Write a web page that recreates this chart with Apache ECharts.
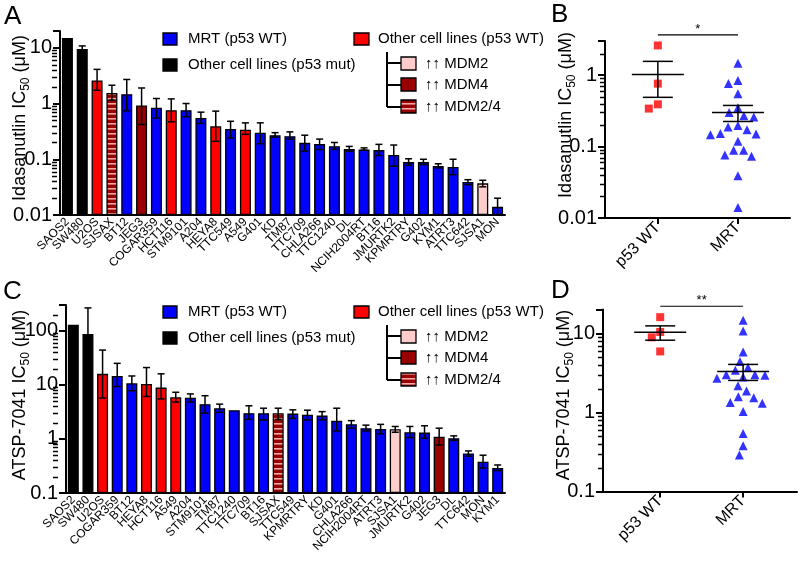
<!DOCTYPE html>
<html><head><meta charset="utf-8">
<script src="https://cdn.jsdelivr.net/npm/echarts@6/dist/echarts.min.js"></script>
<style>html,body{margin:0;padding:0;background:#fff}#c{width:800px;height:568px}</style>
</head><body><div id="c"></div>
<script>
// ---------- DATA ----------
const idaCells = ['SAOS2','SW480','U2OS','SJSAX','BT12','JEG3','COGAR359','HCT116','STM9101','A204','HEYA8','TTC549','A549','G401','KD','TM87','TTC709','CHLA266','TTC1240','DL','NCIH2004RT','BT16','JMURTK2','KPMRTRY','G402','KYM1','ATRT3','TTC642','SJSA1','MON'];
const idaIC50 = [15,9.5,2.6,1.55,1.47,0.92,0.84,0.76,0.76,0.55,0.39,0.35,0.34,0.30,0.27,0.26,0.197,0.187,0.172,0.152,0.15,0.146,0.119,0.089,0.089,0.076,0.073,0.039,0.037,0.014];
const idaErrLow = [null,9.0,1.73,1.15,0.74,0.42,0.55,0.47,0.58,0.44,0.21,0.24,0.28,0.19,0.25,0.23,0.14,0.15,0.15,0.14,0.145,0.117,0.075,0.078,0.08,0.07,0.053,0.035,0.032,0.01];
const idaErrHigh = [null,10.8,4.1,2.13,2.7,1.9,1.23,1.21,1.0,0.7,0.73,0.48,0.45,0.45,0.30,0.31,0.27,0.23,0.20,0.17,0.16,0.185,0.18,0.102,0.10,0.083,0.10,0.043,0.042,0.02];

const atspCells = ['SAOS2','SW480','U2OS','COGAR359','BT12','HEYA8','HCT116','A549','A204','STM9101','TM87','TTC1240','TTC709','BT16','SJSAX','TTC549','KPMRTRY','KD','G401','CHLA266','NCIH2004RT','ATRT3','SJSA1','JMURTK2','G402','JEG3','DL','TTC642','MON','KYM1'];
const atspIC50 = [129,87,16,14.6,10.7,10.4,8.9,5.9,5.8,4.4,3.7,3.4,3.0,3.0,3.0,2.94,2.8,2.7,2.18,1.87,1.58,1.53,1.51,1.33,1.31,1.1,1.03,0.54,0.38,0.29];
const atspErrLow = [null,null,5.7,9.3,7.8,6.1,5.5,4.8,4.8,3.0,3.1,null,2.3,2.25,2.3,2.4,2.25,2.25,1.4,1.58,1.4,1.24,1.33,1.06,1.03,0.77,0.94,0.48,0.29,0.26];
const atspErrHigh = [null,265,44,25,14.6,20.9,16,7.3,6.8,6.3,4.4,null,4.1,3.7,3.7,3.45,3.4,3.2,3.7,2.18,1.8,1.86,1.7,1.7,1.75,1.58,1.14,0.6,0.5,0.33];

const p53MutCells = ['SAOS2','SW480'];
const otherWtCells = ['U2OS','HCT116','HEYA8','A549'];
const mdm2Cells = ['SJSA1'];
const mdm4Cells = ['JEG3'];
const mdm24Cells = ['SJSAX'];

const groupLabels = ['p53 WT','MRT'];
const legendMain = ['MRT (p53 WT)','Other cell lines (p53 mut)','Other cell lines (p53 WT)'];
const legendSub = ['\u2191\u2191 MDM2','\u2191\u2191 MDM4','\u2191\u2191 MDM2/4'];
const sigB = '*', sigD = '**';

// ---------- STYLE ----------
const FONT = '"Liberation Sans", Arial, Helvetica, sans-serif';
const BLUE = '#0000ff', RED = '#ff0000', DARKRED = '#990000', PINK = '#ffcccc', BLACK = '#000000';
function stripeCanvas(){
  const c = document.createElement('canvas'); c.width = 8; c.height = 5;
  const g = c.getContext('2d');
  g.fillStyle = DARKRED; g.fillRect(0,0,8,5);
  g.fillStyle = '#f6a6a6'; g.fillRect(0,3,8,1.6);
  return c;
}
const STRIPE = {image: stripeCanvas(), repeat: 'repeat'};
function groupOf(cell){
  if (p53MutCells.includes(cell)) return 'mut';
  if (otherWtCells.includes(cell)) return 'wt';
  if (mdm2Cells.includes(cell)) return 'mdm2';
  if (mdm4Cells.includes(cell)) return 'mdm4';
  if (mdm24Cells.includes(cell)) return 'mdm24';
  return 'mrt';
}
const groupFill = {mrt: BLUE, mut: BLACK, wt: RED, mdm2: PINK, mdm4: DARKRED, mdm24: STRIPE};

function barData(cells, vals){
  return vals.map((v,i)=>({value: v, itemStyle: {color: groupFill[groupOf(cells[i])]}}));
}
function errData(vals, lo, hi){
  const out = [];
  vals.forEach((v,i)=>{ if (hi[i] != null) out.push([i, v, lo[i] == null ? v : lo[i], hi[i], lo[i] == null ? 0 : 1]); });
  return out;
}
function errRender(params, api){
  const x = api.value(0), lo = api.value(2), hi = api.value(3), hasLo = api.value(4);
  const ph = api.coord([x, hi]), pl = api.coord([x, lo]);
  const cap = 3.5, st = {stroke:'#000', lineWidth:1.5};
  const ch = [
    {type:'line', shape:{x1:ph[0], y1:ph[1], x2:pl[0], y2:pl[1]}, style:st},
    {type:'line', shape:{x1:ph[0]-cap, y1:ph[1], x2:ph[0]+cap, y2:ph[1]}, style:st}
  ];
  if (hasLo) ch.push({type:'line', shape:{x1:pl[0]-cap, y1:pl[1], x2:pl[0]+cap, y2:pl[1]}, style:st});
  return {type:'group', children: ch};
}
function pick(cells, vals, grp){ return vals.filter((v,i)=>groupOf(cells[i]) === grp); }
function meanSem(arr){
  const n = arr.length, m = arr.reduce((a,b)=>a+b,0)/n;
  const sd = Math.sqrt(arr.reduce((a,b)=>a+(b-m)*(b-m),0)/(n-1));
  return [m, m - sd/Math.sqrt(n), m + sd/Math.sqrt(n)];
}
// beeswarm layout (pixel based) for scatter dot plots
function swarm(values, center, pxPerDecade, pxPerUnit, D){
  const idx = values.map((v,i)=>i).sort((a,b)=>values[b]-values[a]);
  const placed = [], out = new Array(values.length);
  idx.forEach(i=>{
    const y = Math.log10(values[i]) * pxPerDecade;
    const cands = [0];
    placed.forEach(p=>{ const dy = Math.abs(p.y - y); if (dy < D){ const w = Math.sqrt(D*D - dy*dy); cands.push(p.x - w - 0.01, p.x + w + 0.01); } });
    cands.sort((a,b)=>Math.abs(a)-Math.abs(b) || a-b);
    const x = cands.find(c=>placed.every(p=>{ const dx=c-p.x, dy=y-p.y; return dx*dx+dy*dy >= D*D - 0.1; }));
    placed.push({x, y});
    out[i] = [center + x/pxPerUnit, values[i]];
  });
  return out;
}
function meanRender(params, api){
  const x = api.value(0), m = api.value(1), lo = api.value(2), hi = api.value(3);
  const pm = api.coord([x, m]), pl = api.coord([x, lo]), ph = api.coord([x, hi]);
  const st = {stroke:'#000', lineWidth:1.5}, W = 26, C = 15;
  return {type:'group', children:[
    {type:'line', shape:{x1:pm[0]-W, y1:pm[1], x2:pm[0]+W, y2:pm[1]}, style:st},
    {type:'line', shape:{x1:ph[0], y1:ph[1], x2:pl[0], y2:pl[1]}, style:st},
    {type:'line', shape:{x1:ph[0]-C, y1:ph[1], x2:ph[0]+C, y2:ph[1]}, style:st},
    {type:'line', shape:{x1:pl[0]-C, y1:pl[1], x2:pl[0]+C, y2:pl[1]}, style:st}
  ]};
}
function sigRender(text){
  return function(params, api){
    const p0 = api.coord([api.value(0), api.value(2)]), p1 = api.coord([api.value(1), api.value(2)]);
    return {type:'group', children:[
      {type:'line', shape:{x1:p0[0], y1:p0[1], x2:p1[0], y2:p1[1]}, style:{stroke:'#000', lineWidth:1.2}},
      {type:'text', style:{text:text, x:(p0[0]+p1[0])/2, y:p0[1]+1, align:'center', verticalAlign:'bottom', font:'13px '+FONT, fill:'#000'}}
    ]};
  };
}
function logLabel(v){
  const l = Math.log10(v);
  return Math.abs(l - Math.round(l)) < 1e-6 ? String(+v.toPrecision(3)) : '';
}
function minorValues(min, max){
  const out = [];
  for (let e = Math.floor(Math.log10(min)); e <= Math.ceil(Math.log10(max)); e++)
    for (let k = 2; k <= 9; k++){ const v = +(k * Math.pow(10, e)).toPrecision(3); if (v > min && v < max) out.push(v); }
  return out;
}
function yAxisLog(gi, min, max, name, gap, pad){
  return {
    type:'log', gridIndex: gi, min: min, max: max, logBase: 10, startValue: min,
    axisLine:{show:true, onZero:false, lineStyle:{color:'#000', width:2}},
    axisTick:{show:true, length:7, lineStyle:{color:'#000', width:2}},
    axisLabel:{fontSize:20, color:'#000', fontFamily:FONT, margin:8, formatter: logLabel},
    splitLine:{show:false},
    name: name, nameLocation:'middle', nameGap: gap, nameMoveOverlap: false,
    nameTextStyle:{fontSize:18, color:'#000', fontFamily:FONT, lineHeight:24, padding: pad || 0,
      rich:{s:{fontSize:12, fontFamily:FONT, color:'#000', verticalAlign:'bottom', lineHeight:13}}}
  };
}
function xAxisCat(gi, cats){
  return {type:'category', gridIndex: gi, data: cats, boundaryGap: true,
    axisLine:{onZero:false, lineStyle:{color:'#000', width:2}},
    axisTick:{alignWithLabel:true, length:5, lineStyle:{color:'#000', width:2}},
    axisLabel:{interval:0, rotate:45, fontSize:12, color:'#000', fontFamily:FONT, margin:5},
    splitLine:{show:false}};
}
function xAxisGroup(gi, min, max){
  return {type:'value', gridIndex: gi, min: min, max: max,
    axisLine:{onZero:false, lineStyle:{color:'#000', width:2}},
    axisTick:{length:6, lineStyle:{color:'#000', width:2}, customValues:[0,1]},
    axisLabel:{rotate:45, fontSize:16, color:'#000', fontFamily:FONT, margin:7, customValues:[0,1], formatter: v=>groupLabels[Math.round(v)] || ''},
    splitLine:{show:false}};
}

// ---------- LAYOUT ----------
const gA = {left:57, top:31, width:448, height:184};
const gB = {left:605, top:41, width:185, height:177};
const gC = {left:58, top:305, width:447, height:188};
const gD = {left:603, top:309.5, width:194, height:182};
const bMin = -0.66, bMax = 1.65, dMin = -0.69, dMax = 1.65;
const pxDecB = gB.height / (Math.log10(3) + 2), pxUnitB = gB.width / (bMax - bMin);
const pxDecD = gD.height / (Math.log10(20) + 1), pxUnitD = gD.width / (dMax - dMin);

const bWt = pick(idaCells, idaIC50, 'wt'), bMrt = pick(idaCells, idaIC50, 'mrt');
const dWt = pick(atspCells, atspIC50, 'wt'), dMrt = pick(atspCells, atspIC50, 'mrt');

// ---------- LEGEND GRAPHICS ----------
function legend(dy){
  const t = (s, x, y)=>({type:'text', style:{text:s, x:x, y:y, verticalAlign:'middle', font:'15px '+FONT, fill:'#000'}});
  const box = (x, y, w, h, fill)=>({type:'rect', shape:{x:x, y:y, width:w, height:h}, style:{fill:fill, stroke:'#000', lineWidth:1.3}});
  const ln = (x1,y1,x2,y2)=>({type:'line', shape:{x1,y1,x2,y2}, style:{stroke:'#000', lineWidth:2}});
  return [
    box(163, 33+dy, 14, 12, BLUE), t(legendMain[0], 188, 39+dy),
    box(163, 59+dy, 14, 12, BLACK), t(legendMain[1], 188, 65+dy),
    box(354, 33+dy, 15, 12, RED), t(legendMain[2], 378, 39+dy),
    ln(387, 52+dy, 387, 107+dy), ln(387, 63+dy, 401, 63+dy), ln(387, 85+dy, 401, 85+dy), ln(387, 107+dy, 401, 107+dy),
    box(401, 57+dy, 15, 13, PINK), t(legendSub[0], 425, 64+dy),
    box(401, 78+dy, 15, 13, DARKRED), t(legendSub[1], 425, 85+dy),
    box(401, 100+dy, 15, 13, STRIPE), t(legendSub[2], 425, 107+dy)
  ];
}
const letter = (s, x, y)=>({type:'text', style:{text:s, x:x, y:y, font:'26px '+FONT, fill:'#000'}});

// minor log ticks (axis decoration only): placed along each grid's left edge on the log scale of that grid
function minorTickGraphics(){
  const out = [];
  [[0.01, 20, gA], [0.01, 3, gB], [0.1, 300, gC], [0.1, 20, gD]].forEach(([mn, mx, g])=>{
    const lmin = Math.log10(mn), lmax = Math.log10(mx);
    minorValues(mn, mx).forEach(v=>{
      const y = Math.round(g.top + g.height * (lmax - Math.log10(v)) / (lmax - lmin)) + 0.5;
      out.push({type:'line', shape:{x1:g.left-5, y1:y, x2:g.left, y2:y}, style:{stroke:'#000', lineWidth:1.5}});
    });
  });
  return out;
}

const chart = echarts.init(document.getElementById('c'));
chart.setOption({
  animation:false,
  backgroundColor:'#fff',
  textStyle:{fontFamily:FONT},
  grid:[gA, gB, gC, gD].map(g=>Object.assign({containLabel:false}, g)),
  xAxis:[xAxisCat(0, idaCells), xAxisGroup(1, bMin, bMax), xAxisCat(2, atspCells), xAxisGroup(3, dMin, dMax)],
  yAxis:[
    yAxisLog(0, 0.01, 20, 'Idasanutlin IC{s|50} (\u03bcM)', 28, [0,0,0,10]),
    yAxisLog(1, 0.01, 3, 'Idasanutlin IC{s|50} (\u03bcM)', 27, [0,0,0,29]),
    yAxisLog(2, 0.1, 300, 'ATSP-7041 IC{s|50} (\u03bcM)', 34, [0,0,0,8]),
    yAxisLog(3, 0.1, 20, 'ATSP-7041 IC{s|50} (\u03bcM)', 27, [0,0,0,11])
  ],
  series:[
    {type:'bar', xAxisIndex:0, yAxisIndex:0, barWidth:11, data: barData(idaCells, idaIC50),
      itemStyle:{borderColor:'#000', borderWidth:1.3}},
    {type:'custom', xAxisIndex:0, yAxisIndex:0, renderItem: errRender, data: errData(idaIC50, idaErrLow, idaErrHigh), z:5},
    {type:'bar', xAxisIndex:2, yAxisIndex:2, barWidth:11, data: barData(atspCells, atspIC50),
      itemStyle:{borderColor:'#000', borderWidth:1.3}},
    {type:'custom', xAxisIndex:2, yAxisIndex:2, renderItem: errRender, data: errData(atspIC50, atspErrLow, atspErrHigh), z:5},

    {type:'scatter', xAxisIndex:1, yAxisIndex:1, symbol:'rect', symbolSize:8, itemStyle:{color:RED}, data: swarm(bWt, 0, pxDecB, pxUnitB, 10)},
    {type:'scatter', xAxisIndex:1, yAxisIndex:1, symbol:'triangle', symbolSize:9, itemStyle:{color:BLUE}, data: swarm(bMrt, 1, pxDecB, pxUnitB, 10)},
    {type:'custom', xAxisIndex:1, yAxisIndex:1, renderItem: meanRender, z:5, data:[[0].concat(meanSem(bWt)), [1].concat(meanSem(bMrt))]},
    {type:'custom', xAxisIndex:1, yAxisIndex:1, renderItem: sigRender(sigB), clip:false, data:[[0, 1, 3.66]]},

    {type:'scatter', xAxisIndex:3, yAxisIndex:3, symbol:'rect', symbolSize:8, itemStyle:{color:RED}, data: swarm(dWt, 0, pxDecD, pxUnitD, 10)},
    {type:'scatter', xAxisIndex:3, yAxisIndex:3, symbol:'triangle', symbolSize:9, itemStyle:{color:BLUE}, data: swarm(dMrt, 1, pxDecD, pxUnitD, 10)},
    {type:'custom', xAxisIndex:3, yAxisIndex:3, renderItem: meanRender, z:5, data:[[0].concat(meanSem(dWt)), [1].concat(meanSem(dMrt))]},
    {type:'custom', xAxisIndex:3, yAxisIndex:3, renderItem: sigRender(sigD), clip:false, data:[[0, 1, 22]]}
  ],
  graphic: [].concat(legend(0), legend(273), [letter('A', 4, 4), letter('B', 551, 2), letter('C', 3, 279), letter('D', 551, 278)], minorTickGraphics())
});
</script>
</body></html>
